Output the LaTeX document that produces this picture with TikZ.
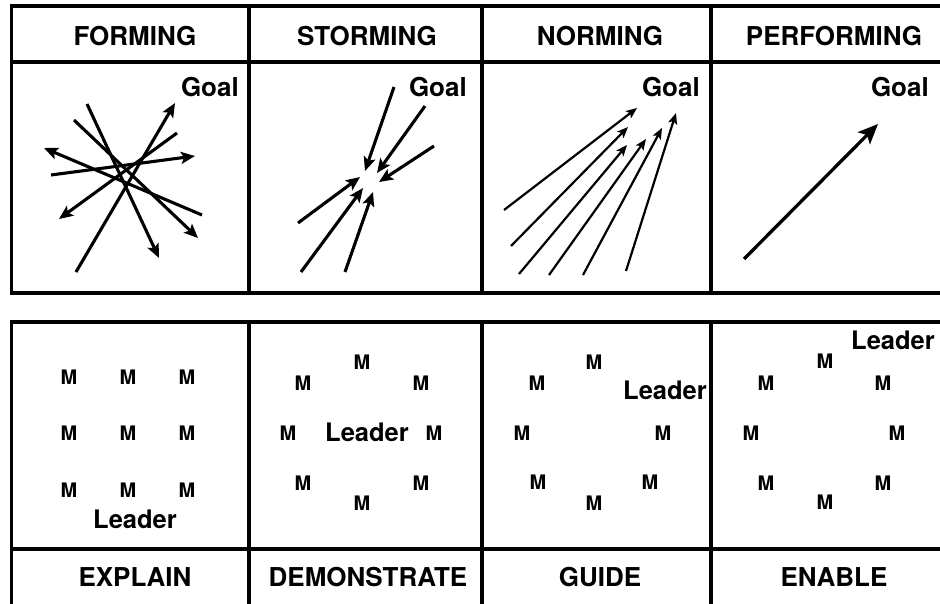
\documentclass[tikz,border=0pt]{standalone}
\usepackage{fontspec}
\setmainfont{TeX Gyre Heros}
\usetikzlibrary{arrows.meta}
\begin{document}
\begin{tikzpicture}[x=1pt,y=-1pt,
  rule/.style={line width=3.2pt},
  hdr/.style={font=\fontsize{26}{30}\selectfont\bfseries, inner sep=0pt, anchor=base},
  goal/.style={font=\fontsize{26}{30}\selectfont\bfseries, inner sep=0pt, anchor=base east},
  mem/.style={font=\fontsize{20}{24}\selectfont\bfseries, inner sep=0pt},
  lead/.style={font=\fontsize{25.5}{30}\selectfont\bfseries, inner sep=0pt, anchor=base},
  arr/.style={line width=3.1pt, -{Stealth[length=14pt,width=12pt,inset=3pt]}},
  thinarr/.style={line width=2.2pt, -{Stealth[length=11pt,width=9pt,inset=2.5pt]}},
  bigarr/.style={line width=3.3pt, -{Stealth[length=20pt,width=17pt,inset=4.5pt]}},
]
\useasboundingbox (0,0) rectangle (940,604);
\fill[white] (0,0) rectangle (940,604);

% ---- top table ----
\draw[rule] (946,6) -- (11.5,6) -- (11.5,293) -- (946,293);
\draw[rule] (11.5,62) -- (946,62);
\foreach \x in {249,482,711} \draw[rule] (\x,6) -- (\x,293);

% ---- bottom table ----
\draw[rule] (946,322) -- (11.5,322) -- (11.5,610);
\draw[rule] (11.5,549) -- (946,549);
\foreach \x in {249,482,711} \draw[rule] (\x,322) -- (\x,610);

% ---- headers ----
\node[hdr] (h1) at (135,46) {FORMING};
\node[hdr] (h2) at (367,46) {STORMING};
\node[hdr] (h3) at (600,46) {NORMING};
\node[hdr] (h4) at (834,46) {PERFORMING};

\node[goal] (g1) at (239,97) {Goal};
\node[goal] (g2) at (467,97) {Goal};
\node[goal] (g3) at (700,97) {Goal};
\node[goal] (g4) at (929,97) {Goal};

% ---- arrows ----
\foreach \n/\sx/\sy/\ex/\ey in {
  fa/76/272/175/103, fb/87/104/159/258, fc/74/120/198/238,
  fd/202/215/44/148, fe/51/175/195/156, ff/177/133/59/219,
  sa/394/87/365/171, sb/425/106/377/173, sc/434/146/379/182,
  sd/298/223/360/177, se/301/272/363/188, sf/345/272/373/192}
{
  \coordinate (\n s) at (\sx,\sy);
  \coordinate (\n e) at (\ex,\ey);
  \draw[arr] (\n s) -- (\n e);
}
\foreach \n/\sx/\sy/\ex/\ey in {
  na/504/210/637/108, nb/511/246/628/127, nc/519/274/627/145,
  nd/549/275/646/139, ne/583/275/662/128, nf/626/271/676/113}
{
  \coordinate (\n s) at (\sx,\sy);
  \coordinate (\n e) at (\ex,\ey);
  \draw[thinarr] (\n s) -- (\n e);
}
\coordinate (ps) at (744,259);
\coordinate (pe) at (878,124);
\draw[bigarr] (ps) -- (pe);

% ---- bottom: panel 1 ----
\foreach \i/\x in {1/69,2/128,3/187}
  \foreach \j/\y in {1/377,2/433,3/490}
    \node[mem] (ea\i\j) at (\x,\y) {M};
\node[lead] (l1) at (135,528) {Leader};

% ---- panel 2 ----
\node[mem] (d1) at (362,362) {M};
\node[mem] (d2) at (303,383) {M};
\node[mem] (d3) at (421,383) {M};
\node[mem] (d4) at (288,433) {M};
\node[mem] (d5) at (434,433) {M};
\node[mem] (d6) at (303,483) {M};
\node[mem] (d7) at (421,483) {M};
\node[mem] (d8) at (362,503) {M};
\node[lead] (l2) at (367,441.5) {Leader};

% ---- panel 3 ----
\node[mem] (u1) at (594,362) {M};
\node[mem] (u2) at (537,383) {M};
\node[mem] (u3) at (522,433) {M};
\node[mem] (u4) at (663,433) {M};
\node[mem] (u5) at (538,482) {M};
\node[mem] (u6) at (650,482) {M};
\node[mem] (u7) at (594,503) {M};
\node[lead] (l3) at (665,399) {Leader};

% ---- panel 4 ----
\node[mem] (n1) at (825,361) {M};
\node[mem] (n2) at (766,383) {M};
\node[mem] (n3) at (883,383) {M};
\node[mem] (n4) at (751,433) {M};
\node[mem] (n5) at (897,433) {M};
\node[mem] (n6) at (766,483) {M};
\node[mem] (n7) at (883,483) {M};
\node[mem] (n8) at (825,502) {M};
\node[lead] (l4) at (893,349) {Leader};

% ---- bottom labels ----
\node[hdr] (b1) at (135,586.5) {EXPLAIN};
\node[hdr] (b2) at (368,586.5) {DEMONSTRATE};
\node[hdr] (b3) at (600,586.5) {GUIDE};
\node[hdr] (b4) at (834,586.5) {ENABLE};
\end{tikzpicture}
\end{document}
